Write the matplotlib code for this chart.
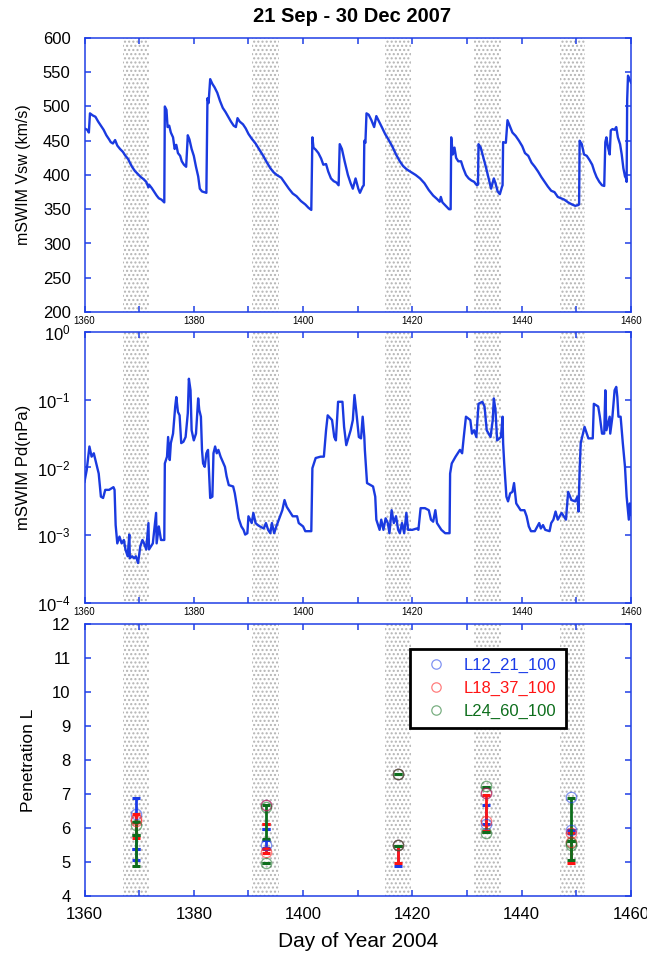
import numpy as np
import matplotlib
matplotlib.use("Agg")
import matplotlib.pyplot as plt
from matplotlib.ticker import MultipleLocator, LogLocator, NullLocator

plt.rcParams['font.family'] = ['Liberation Sans', 'DejaVu Sans']
plt.rcParams['hatch.linewidth'] = 1.0
plt.rcParams['hatch.color'] = '#b4b4b4'

# ---------------- data ----------------
title = "21 Sep - 30 Dec 2007"
xlabel = "Day of Year 2004"

# shaded intervals (day of year)
band_start = [1367.0, 1390.6, 1415.0, 1431.2, 1447.0]
band_end = [1371.8, 1395.5, 1419.8, 1436.2, 1451.5]

# solar wind speed (km/s)
vsw_day = [1360.0, 1360.5, 1360.8, 1361.0, 1361.5, 1362.0, 1362.5, 1363.0, 1363.5, 1364.0,
           1364.5, 1364.8, 1365.2, 1365.6, 1366.0, 1366.5, 1367.0, 1367.5, 1368.0, 1368.3,
           1368.7, 1369.2, 1369.8, 1370.3, 1370.8, 1371.3, 1371.7, 1371.8, 1372.3, 1372.8,
           1373.2, 1373.6, 1374.1, 1374.6, 1374.7, 1375.0, 1375.2, 1375.5, 1375.8, 1376.2,
           1376.5, 1376.8, 1377.1, 1377.5, 1377.8, 1378.2, 1378.6, 1378.9, 1379.2, 1379.6,
           1380.0, 1380.4, 1380.8, 1381.1, 1381.5, 1382.3, 1382.5, 1382.7, 1383.0, 1383.4,
           1383.8, 1384.3, 1384.8, 1385.3, 1385.8, 1386.3, 1386.8, 1387.3, 1387.7, 1388.0,
           1388.4, 1389.0, 1389.5, 1390.0, 1390.6, 1391.3, 1392.0, 1392.7, 1393.4, 1394.0,
           1394.6, 1395.2, 1396.0, 1396.7, 1397.4, 1398.1, 1398.8, 1399.6, 1400.4, 1401.0,
           1401.5, 1401.7, 1401.9, 1402.3, 1402.8, 1403.3, 1403.7, 1404.2, 1404.6, 1405.1,
           1405.6, 1406.1, 1406.5, 1406.7, 1407.1, 1407.6, 1408.2, 1408.7, 1409.1, 1409.6,
           1410.1, 1410.4, 1410.9, 1411.1, 1411.2, 1411.4, 1411.6, 1412.0, 1412.5, 1413.0,
           1413.4, 1413.9, 1414.4, 1415.0, 1415.6, 1416.3, 1417.0, 1417.7, 1418.3, 1419.0,
           1419.8, 1420.6, 1421.4, 1422.2, 1423.0, 1423.8, 1424.5, 1425.0, 1425.2, 1425.5,
           1426.1, 1426.7, 1427.0, 1427.1, 1427.4, 1427.7, 1428.0, 1428.4, 1428.9, 1429.3,
           1429.8, 1430.3, 1430.8, 1431.3, 1431.8, 1432.0, 1432.1, 1432.5, 1433.0, 1433.5,
           1434.0, 1434.4, 1434.9, 1435.2, 1435.6, 1436.0, 1436.4, 1436.5, 1436.6, 1437.1,
           1437.4, 1437.8, 1438.3, 1438.9, 1439.5, 1440.1, 1440.6, 1441.2, 1441.8, 1442.4,
           1443.0, 1443.6, 1444.2, 1444.8, 1445.4, 1446.0, 1446.6, 1447.2, 1447.8, 1448.5,
           1449.2, 1449.8, 1450.3, 1450.5, 1450.6, 1451.0, 1451.4, 1451.9, 1452.4, 1452.9,
           1453.3, 1453.7, 1454.2, 1454.7, 1455.1, 1455.3, 1455.5, 1455.8, 1456.1, 1456.3,
           1456.6, 1457.0, 1457.3, 1457.6, 1458.0, 1458.3, 1458.6, 1458.9, 1459.1, 1459.2,
           1459.3, 1459.45, 1459.7, 1460.0]
vsw_kms = [468, 466, 462, 490, 487, 485, 478, 472, 466, 458,
           452, 448, 446, 451, 443, 438, 434, 428, 423, 418,
           412, 406, 401, 397, 394, 390, 382, 386, 381, 375,
           370, 366, 364, 360, 500, 495, 470, 472, 462, 455,
           438, 444, 432, 428, 420, 415, 412, 458, 452, 438,
           428, 412, 398, 380, 376, 374, 512, 505, 540, 533,
           528, 520, 508, 498, 492, 485, 478, 472, 470, 483,
           478, 474, 468, 460, 453, 446, 437, 428, 418, 410,
           404, 400, 396, 388, 380, 373, 369, 362, 357, 352,
           349, 455, 440, 437, 432, 424, 415, 416, 405, 395,
           391, 389, 385, 445, 438, 420, 400, 388, 380, 395,
           380, 374, 383, 385, 450, 447, 490, 488, 480, 470,
           486, 478, 470, 460, 452, 442, 430, 420, 413, 408,
           404, 400, 395, 388, 378, 370, 365, 361, 368, 360,
           355, 350, 350, 455, 430, 440, 425, 420, 420, 410,
           400, 395, 392, 390, 385, 386, 445, 440, 425, 410,
           393, 380, 395, 388, 376, 372, 383, 385, 448, 447,
           480, 472, 462, 457, 450, 442, 432, 428, 418, 412,
           405, 397, 390, 383, 377, 375, 368, 366, 364, 360,
           357, 355, 356, 357, 450, 445, 430, 428, 422, 415,
           405, 397, 390, 385, 384, 448, 455, 440, 430, 465,
           467, 466, 470, 455, 445, 430, 410, 398, 395, 390,
           510, 545, 540, 535]

# dynamic pressure, log10(Pd / nPa)
pd_day = [1360.0, 1360.4, 1360.9, 1361.3, 1361.7, 1362.3, 1362.6, 1363.0, 1363.4, 1363.8,
          1364.5, 1365.3, 1365.5, 1365.7, 1366.0, 1366.4, 1366.8, 1367.2, 1367.5, 1367.9,
          1368.2, 1368.3, 1368.7, 1369.1, 1369.4, 1369.8, 1370.2, 1370.6, 1370.9, 1371.3,
          1371.7, 1371.8, 1372.5, 1373.1, 1373.2, 1373.6, 1374.0, 1374.6, 1374.7, 1375.1,
          1375.3, 1375.6, 1375.8, 1376.2, 1376.6, 1376.8, 1377.1, 1377.4, 1377.7, 1378.1,
          1378.5, 1378.9, 1379.1, 1379.4, 1379.6, 1380.0, 1380.4, 1380.8, 1381.0, 1381.3,
          1381.5, 1381.7, 1382.0, 1382.3, 1382.6, 1383.0, 1383.4, 1383.6, 1383.9, 1384.2,
          1384.5, 1384.9, 1385.7, 1386.0, 1386.4, 1387.2, 1387.5, 1387.9, 1388.2, 1388.5,
          1388.7, 1389.1, 1389.4, 1389.8, 1390.0, 1390.6, 1390.9, 1391.3, 1391.7, 1392.1,
          1392.8, 1393.2, 1393.6, 1394.0, 1394.3, 1394.7, 1395.1, 1395.8, 1396.2, 1396.6,
          1397.0, 1397.4, 1398.1, 1398.9, 1399.2, 1400.0, 1400.4, 1401.1, 1401.5, 1401.7,
          1402.3, 1403.2, 1403.8, 1404.2, 1404.5, 1405.3, 1405.7, 1406.0, 1406.4, 1407.2,
          1407.5, 1407.9, 1408.7, 1409.1, 1409.4, 1409.7, 1410.2, 1410.6, 1410.9, 1411.2,
          1411.3, 1411.7, 1412.8, 1413.2, 1413.4, 1414.0, 1414.3, 1414.7, 1415.1, 1415.5,
          1415.8, 1416.2, 1416.6, 1417.0, 1417.4, 1417.7, 1418.1, 1418.5, 1418.9, 1419.2,
          1420.0, 1420.8, 1421.1, 1421.5, 1422.3, 1423.0, 1423.4, 1423.8, 1424.2, 1424.5,
          1425.3, 1426.0, 1426.8, 1426.9, 1427.2, 1427.9, 1428.7, 1429.1, 1429.4, 1429.8,
          1430.6, 1430.9, 1431.3, 1431.7, 1432.1, 1432.8, 1433.2, 1433.6, 1434.3, 1434.7,
          1434.9, 1435.2, 1435.5, 1436.2, 1436.5, 1436.6, 1436.8, 1437.2, 1437.5, 1437.9,
          1438.3, 1438.6, 1439.0, 1439.8, 1440.5, 1440.9, 1441.3, 1441.7, 1442.4, 1443.2,
          1443.5, 1443.9, 1444.3, 1445.1, 1445.4, 1445.8, 1446.2, 1446.6, 1447.3, 1448.1,
          1448.5, 1449.1, 1449.8, 1450.2, 1450.4, 1450.6, 1450.8, 1451.5, 1452.2, 1453.0,
          1453.2, 1454.0, 1454.3, 1454.7, 1455.1, 1455.3, 1455.5, 1456.1, 1456.2, 1456.6,
          1457.0, 1457.3, 1457.5, 1457.7, 1458.1, 1458.5, 1458.9, 1459.2, 1459.6, 1459.8,
          1460.0]
pd_log10 = [-2.21, -2.04, -1.69, -1.84, -1.79, -1.99, -2.09, -2.43, -2.45, -2.33,
            -2.33, -2.29, -2.33, -2.85, -3.12, -3.02, -3.12, -3.07, -3.21, -3.31,
            -2.99, -3.34, -3.31, -3.34, -3.31, -3.41, -3.17, -3.07, -3.12, -3.21,
            -2.82, -3.21, -3.12, -2.67, -3.12, -2.87, -3.07, -3.07, -1.94, -1.84,
            -1.55, -1.89, -1.64, -1.50, -1.10, -0.96, -1.18, -1.23, -1.64, -1.62,
            -1.55, -1.20, -0.69, -0.86, -1.45, -1.60, -1.50, -0.98, -1.15, -1.25,
            -1.74, -1.94, -1.99, -1.79, -1.74, -2.45, -2.43, -1.79, -1.69, -1.79,
            -1.74, -1.84, -1.99, -2.13, -2.26, -2.28, -2.38, -2.58, -2.75, -2.82,
            -2.87, -2.92, -2.99, -2.97, -2.72, -2.82, -2.67, -2.82, -2.85, -2.87,
            -2.90, -2.82, -2.92, -2.97, -2.82, -2.97, -2.87, -2.72, -2.63, -2.48,
            -2.58, -2.63, -2.72, -2.72, -2.82, -2.87, -2.94, -2.94, -2.94, -2.01,
            -1.86, -1.84, -1.84, -1.45, -1.23, -1.30, -1.55, -1.60, -1.03, -1.03,
            -1.40, -1.67, -1.45, -1.30, -0.93, -1.15, -1.55, -1.57, -1.25, -1.55,
            -1.74, -2.23, -2.28, -2.43, -2.77, -2.92, -2.77, -2.92, -2.75, -2.82,
            -2.97, -2.63, -2.82, -2.72, -2.92, -2.97, -2.82, -2.97, -2.67, -2.92,
            -2.92, -2.90, -2.92, -2.60, -2.60, -2.63, -2.77, -2.80, -2.63, -2.82,
            -2.92, -2.97, -2.97, -2.09, -1.94, -1.84, -1.74, -1.79, -1.55, -1.25,
            -1.30, -1.50, -1.45, -1.55, -1.06, -1.03, -1.10, -1.45, -1.55, -1.30,
            -0.98, -1.15, -1.60, -1.55, -1.25, -1.64, -1.94, -2.43, -2.50, -2.38,
            -2.36, -2.23, -2.53, -2.63, -2.63, -2.72, -2.87, -2.94, -2.94, -2.82,
            -2.90, -2.85, -2.92, -2.94, -2.82, -2.77, -2.65, -2.77, -2.67, -2.77,
            -2.36, -2.48, -2.50, -2.43, -2.65, -2.04, -1.64, -1.40, -1.57, -1.57,
            -1.06, -1.10, -1.25, -1.50, -1.50, -0.86, -1.45, -1.25, -1.50, -1.25,
            -0.86, -0.81, -0.96, -1.25, -1.25, -1.64, -1.99, -2.43, -2.77, -2.53,
            -2.70]

# penetration L: labels, open-circle values and error-bar extents per series
series_names = ["L12_21_100", "L18_37_100", "L24_60_100"]

blue_circ_day = [1369.4, 1393.2, 1393.2, 1417.4, 1417.4, 1433.4, 1433.4, 1449.1, 1449.1]
blue_circ_L = [6.42, 6.68, 5.50, 7.59, 5.50, 7.02, 6.12, 6.90, 5.93]
blue_bar_day = [1369.4, 1369.4, 1393.2, 1393.2, 1417.4, 1433.4, 1449.1]
blue_bar_lo = [5.06, 5.38, 5.97, 5.40, 4.89, 6.12, 5.93]
blue_bar_hi = [6.89, 5.38, 5.97, 5.65, 5.47, 6.68, 5.93]

red_circ_day = [1369.4, 1369.4, 1393.2, 1393.2, 1417.4, 1417.4, 1433.4, 1433.4, 1449.1, 1449.1]
red_circ_L = [6.26, 6.20, 6.68, 5.30, 7.59, 5.50, 7.02, 6.20, 5.85, 5.60]
red_bar_day = [1369.4, 1393.2, 1393.2, 1417.4, 1433.4, 1449.1]
red_bar_lo = [5.70, 6.11, 5.27, 4.96, 5.92, 4.98]
red_bar_hi = [6.40, 6.11, 5.38, 5.47, 6.97, 5.84]

green_circ_day = [1369.4, 1393.2, 1393.2, 1417.4, 1417.4, 1433.4, 1433.4, 1449.1, 1449.1]
green_circ_L = [6.09, 6.62, 4.98, 7.59, 5.50, 7.24, 5.86, 5.55, 5.50]
green_bar_day = [1369.4, 1369.4, 1393.2, 1393.2, 1417.4, 1417.4, 1433.4, 1433.4, 1449.1, 1449.1]
green_bar_lo = [4.88, 5.79, 5.68, 4.98, 7.59, 5.47, 7.20, 5.89, 5.06, 5.62]
green_bar_hi = [6.17, 5.79, 6.68, 4.98, 7.59, 5.47, 7.20, 5.89, 6.88, 5.62]

# ---------------- styling ----------------
AX_BLUE = '#1f3fe6'
LINE_BLUE = '#1a3ae0'
C_BLUE = '#1a3be8'
C_RED = '#ff1414'
C_GREEN = '#0d6e1c'

fig = plt.figure(figsize=(6.47, 9.55), dpi=100)
L, W = 84.5 / 647, 546.5 / 647
ax1 = fig.add_axes([L, 1 - 312 / 955, W, 274 / 955])
ax2 = fig.add_axes([L, 1 - 603 / 955, W, 271 / 955])
ax3 = fig.add_axes([L, 1 - 896 / 955, W, 272 / 955])


def style(ax, small_xlabels):
    for sp in ax.spines.values():
        sp.set_color(AX_BLUE)
        sp.set_linewidth(1.1)
    ax.set_xlim(1360, 1460)
    ax.xaxis.set_major_locator(MultipleLocator(20))
    ax.xaxis.set_minor_locator(MultipleLocator(10))
    ax.tick_params(axis='both', which='both', direction='in', color=AX_BLUE,
                   top=True, right=True, width=1.1, length=4.5)
    if small_xlabels:
        ax.tick_params(axis='x', which='major', labelsize=7, pad=3)
    else:
        ax.tick_params(axis='x', which='major', labelsize=12, pad=8)
    ax.tick_params(axis='y', which='major', labelsize=12, pad=10)
    for a, b in zip(band_start, band_end):
        ax.axvspan(a, b, facecolor='none', edgecolor='#b4b4b4', hatch='....',
                   linewidth=0, zorder=0)


def place_ylabel(ax, text, size, xfrac):
    ax.set_ylabel(text, fontsize=size)
    ax.yaxis.label.set_va('center')
    ax.yaxis.set_label_coords(xfrac, 0.5)


# panel 1: solar wind speed
style(ax1, True)
ax1.plot(vsw_day, vsw_kms, color=LINE_BLUE, lw=1.7, zorder=3)
ax1.set_ylim(200, 600)
ax1.yaxis.set_major_locator(MultipleLocator(50))
place_ylabel(ax1, "mSWIM Vsw (km/s)", 11.5, -0.111)
fig.text(352 / 647, 1 - 16 / 955, title, fontsize=14.5, fontweight='bold',
         ha='center', va='center')

# panel 2: dynamic pressure
style(ax2, True)
ax2.set_yscale('log')
ax2.plot(pd_day, 10.0 ** np.array(pd_log10), color=LINE_BLUE, lw=1.7, zorder=3)
ax2.set_ylim(1e-4, 1)
ax2.yaxis.set_major_locator(LogLocator(base=10, numticks=10))
ax2.yaxis.set_minor_locator(NullLocator())
ax2.tick_params(axis='y', which='major', labelsize=12, pad=10, length=4.5)
place_ylabel(ax2, "mSWIM Pd(nPa)", 12, -0.112)

# panel 3: penetration L
style(ax3, False)
ax3.set_ylim(4, 12)
ax3.yaxis.set_major_locator(MultipleLocator(1))
place_ylabel(ax3, "Penetration L", 12.5, -0.102)
ax3.set_xlabel(xlabel, fontsize=15)
ax3.xaxis.label.set_va('center')
ax3.xaxis.set_label_coords(0.5, -0.168)

groups = [
    (C_BLUE, blue_circ_day, blue_circ_L, blue_bar_day, blue_bar_lo, blue_bar_hi),
    (C_RED, red_circ_day, red_circ_L, red_bar_day, red_bar_lo, red_bar_hi),
    (C_GREEN, green_circ_day, green_circ_L, green_bar_day, green_bar_lo, green_bar_hi),
]
handles = []
for name, (col, cd, cl, bd, lo, hi) in zip(series_names, groups):
    lo = np.array(lo)
    hi = np.array(hi)
    ax3.errorbar(bd, (lo + hi) / 2, yerr=(hi - lo) / 2, fmt='none', ecolor=col,
                 elinewidth=2.0, capsize=3.0, capthick=2.2, zorder=3)
    h, = ax3.plot(cd, cl, 'o', mfc='none', mec=col, mew=0.9, ms=7.5, alpha=0.55,
                  zorder=4, label=name)
    handles.append(h)

leg = ax3.legend(handles=handles, loc='upper left', bbox_to_anchor=(0.5955, 0.908),
                 fontsize=12, frameon=True, fancybox=False, framealpha=1,
                 edgecolor='black', handlelength=2.0, handletextpad=0.7,
                 borderpad=0.55, labelspacing=0.45, borderaxespad=0,
                 markerscale=0.9)
leg.get_frame().set_linewidth(2.0)
for txt, col in zip(leg.get_texts(), [C_BLUE, C_RED, C_GREEN]):
    txt.set_color(col)

fig.savefig("out.png", dpi=100)
